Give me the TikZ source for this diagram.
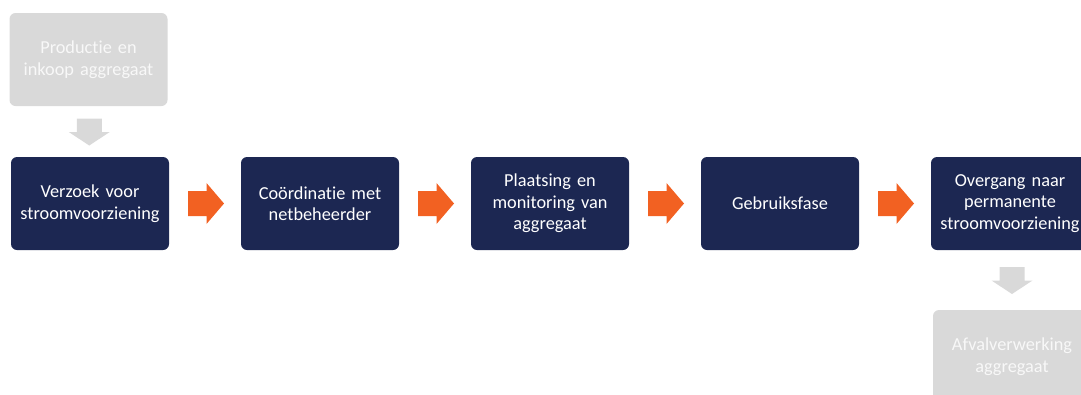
\documentclass[tikz,border=0pt]{standalone}
\usepackage{fontspec}
\setmainfont[Ligatures=NoCommon]{Carlito}
\usetikzlibrary{calc}
\definecolor{navy}{HTML}{1C2752}
\definecolor{orng}{HTML}{F26122}
\definecolor{lgray}{HTML}{D9D9D9}
\definecolor{gtext}{HTML}{F8F8F8}
\begin{document}
\begin{tikzpicture}[x=1pt,y=-1pt,
  stepbox/.style={fill=navy,text=white,rounded corners=6pt,minimum width=158pt,minimum height=93pt,
    inner sep=0pt,align=center,font=\fontsize{18.3}{21.5}\selectfont,text width=156pt},
  graybox/.style={stepbox,fill=lgray,text=gtext}]
\useasboundingbox (0,0) rectangle (1081,394);
\clip (0,0) rectangle (1081,394);
\node[graybox] (p0) at (88.5,59.5) {Productie en\\inkoop aggregaat};
\node[stepbox] (s1) at (90,203.5) {Verzoek voor\\stroomvoorziening};
\node[stepbox] (s2) at (320,203.5) {Coördinatie met\\netbeheerder};
\node[stepbox] (s3) at (550,203.5) {Plaatsing en\\monitoring van\\aggregaat};
\node[stepbox] (s4) at (780,203.5) {Gebruiksfase};
\node[stepbox] (s5) at (1010,203.5) {Overgang naar\\permanente\\stroomvoorziening};
\node[graybox] (p6) at (1012,356.5) {Afvalverwerking\\aggregaat};
% orange block arrows
\foreach \a/\b in {s1/s2,s2/s3,s3/s4,s4/s5}{
  \coordinate (m) at ($(\a.east)!0.5!(\b.west)$);
  \fill[orng] ($(m)+(-17,-12.5)$) -- ($(m)+(1.5,-12.5)$) -- ($(m)+(1.5,-20.5)$) -- ($(m)+(19,0)$)
    -- ($(m)+(1.5,20.5)$) -- ($(m)+(1.5,12.5)$) -- ($(m)+(-17,12.5)$) -- cycle;
}
% gray down arrows
\foreach \a/\b/\dx in {p0/s1/0,s5/p6/1}{
  \coordinate (m) at ($(\a.south)!0.5!(\b.north)+(\dx,0)$);
  \fill[lgray] ($(m)+(-12.5,-13)$) -- ($(m)+(12.5,-13)$) -- ($(m)+(12.5,0.5)$) -- ($(m)+(20.5,0.5)$)
    -- ($(m)+(0,14)$) -- ($(m)+(-20.5,0.5)$) -- ($(m)+(-12.5,0.5)$) -- cycle;
}
\end{tikzpicture}
\end{document}
